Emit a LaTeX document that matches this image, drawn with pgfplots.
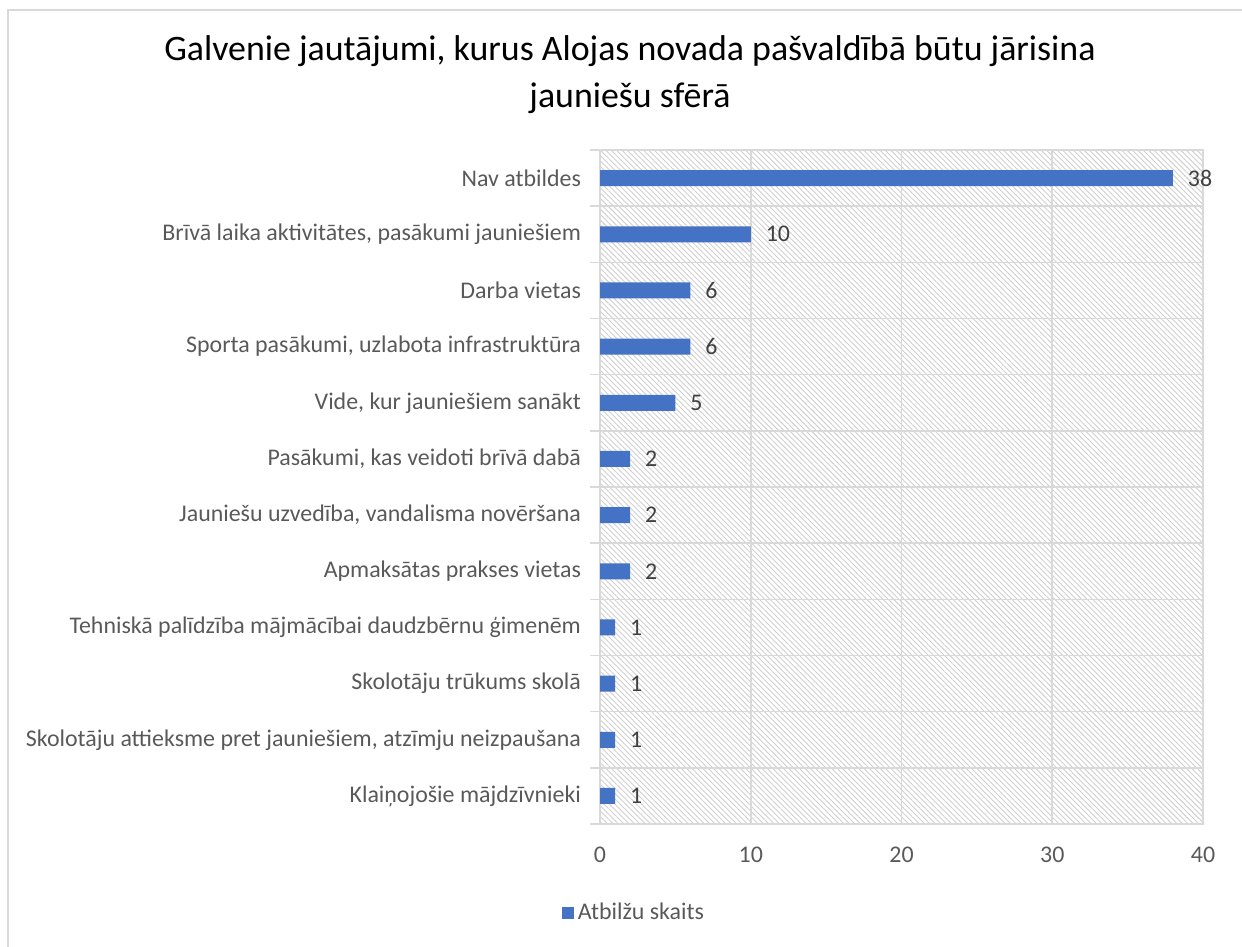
\documentclass[border=0pt]{standalone}
\usepackage{fontspec}
\setmainfont{Carlito}
\usepackage{pgfplots}
\pgfplotsset{compat=1.18}
\usetikzlibrary{patterns.meta}
\definecolor{Bar}{HTML}{4472C4}
\definecolor{Grid}{HTML}{D9D9D9}
\definecolor{Txt}{HTML}{595959}
\definecolor{Val}{HTML}{404040}
\definecolor{Hatch}{HTML}{CFCFCF}

\begin{document}
\begin{tikzpicture}
\useasboundingbox (0,0) rectangle (621bp,473.5bp);
\draw[Grid, line width=0.8bp] (4bp,-5bp) -- (4bp,468.5bp) -- (630bp,468.5bp);
\node[font=\fontsize{18}{23.5}\selectfont, align=center] at (315bp,436bp)
  {Galvenie jautājumi, kurus Alojas novada pašvaldībā būtu jārisina\\jauniešu sfērā};
\begin{axis}[
  at={(300bp,61.5bp)}, anchor=south west,
  scale only axis, width=301.5bp, height=337bp,
  xbar, bar width=8bp,
  xmin=0, xmax=40, xtick={0,10,...,40},
  ymin=-0.5, ymax=11.5, y dir=reverse,
  ytick={0,...,11},
  yticklabels={Nav atbildes,
    {Brīvā laika aktivitātes, pasākumi jauniešiem},
    Darba vietas,
    {Sporta pasākumi, uzlabota infrastruktūra},
    {Vide, kur jauniešiem sanākt},
    {Pasākumi, kas veidoti brīvā dabā},
    {Jauniešu uzvedība, vandalisma novēršana},
    Apmaksātas prakses vietas,
    Tehniskā palīdzība mājmācībai daudzbērnu ģimenēm,
    Skolotāju trūkums skolā,
    {Skolotāju attieksme pret jauniešiem, atzīmju neizpaušana},
    Klaiņojošie mājdzīvnieki},
  minor ytick={-0.5,0.5,...,11.5},
  ytick pos=left, xtick pos=bottom,
  yminorgrids, xmajorgrids,
  grid style={Grid, line width=0.8bp},
  major tick length=0pt, minor tick length=5bp,
  tick align=outside,
  minor tick style={Grid, line width=0.8bp},
  axis line style={Grid, line width=0.8bp},
  axis background/.style={pattern={Lines[angle=-45,distance=1.9bp,line width=0.45bp]}, pattern color=Hatch},
  tick label style={font=\fontsize{12}{14}\selectfont, text=Txt},
  /pgf/number format/assume math mode=true,
  yticklabel style={xshift=-6bp},
  xticklabel style={yshift=-8bp},
  nodes near coords,
  nodes near coords style={font=\fontsize{12}{14}\selectfont, text=Val, anchor=west, xshift=4bp},
  legend style={draw=none, fill=none, at={(0.058,-0.132)}, anchor=center,
    font=\fontsize{12}{14}\selectfont, text=Txt},
  legend image code/.code={\fill[Bar] (0bp,-3bp) rectangle (6bp,3bp);},
]
\addplot[fill=Bar, draw=none] coordinates {
  (38,0) (10,1) (6,2) (6,3) (5,4) (2,5) (2,6) (2,7) (1,8) (1,9) (1,10) (1,11)};
\addlegendentry{Atbilžu skaits}
\end{axis}
\end{tikzpicture}
\end{document}
